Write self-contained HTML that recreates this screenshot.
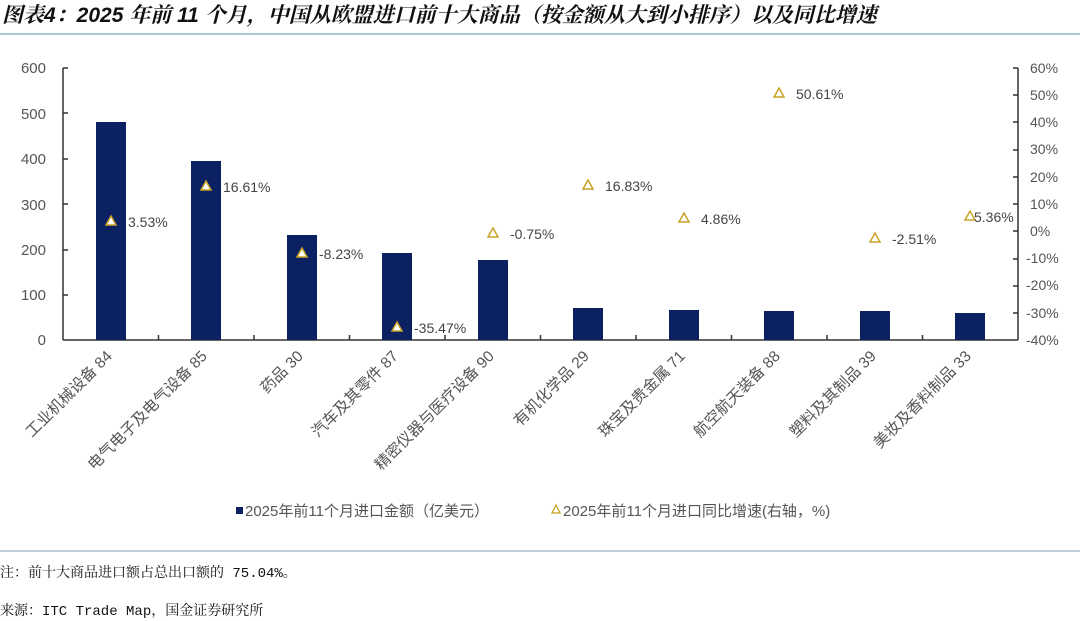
<!DOCTYPE html>
<html><head><meta charset="utf-8"><style>
body{margin:0;background:#fff;}
svg{display:block;font-family:"Liberation Sans","Noto Sans CJK SC",sans-serif;}
</style></head><body>
<svg width="1080" height="621" viewBox="0 0 1080 621">
<text x="2" y="22" font-size="21" font-weight="bold" font-style="italic" fill="#111" font-family="'Liberation Sans','Noto Serif CJK SC',serif">图表4：2025 年前 11 个月，中国从欧盟进口前十大商品（按金额从大到小排序）以及同比增速</text>
<line x1="0" y1="34" x2="1080" y2="34" stroke="#8fb0c8" stroke-width="1.5"/>
<g fill="#555" font-size="15" text-anchor="end">
<text x="46" y="73">600</text><text x="46" y="119">500</text><text x="46" y="164">400</text><text x="46" y="210">300</text><text x="46" y="255">200</text><text x="46" y="300">100</text><text x="46" y="345">0</text>
</g>
<g fill="#555" font-size="14" text-anchor="start">
<text x="1030" y="73">60%</text><text x="1030" y="100">50%</text><text x="1030" y="127">40%</text><text x="1030" y="154">30%</text><text x="1030" y="182">20%</text><text x="1030" y="209">10%</text><text x="1030" y="236">0%</text><text x="1026" y="263">-10%</text><text x="1026" y="290">-20%</text><text x="1026" y="318">-30%</text><text x="1026" y="345">-40%</text>
</g>
<g stroke="#333" stroke-width="1.5" fill="none">
<line x1="63" y1="68" x2="63" y2="340"/><line x1="63" y1="340" x2="1018" y2="340"/><line x1="1018" y1="68" x2="1018" y2="340"/>
<path d="M63 68h5M63 113h5M63 159h5M63 204h5M63 250h5M63 295h5"/>
<path d="M1018 68h-5M1018 95h-5M1018 122h-5M1018 150h-5M1018 177h-5M1018 204h-5M1018 231h-5M1018 259h-5M1018 286h-5M1018 313h-5"/>
<path d="M158.5 340v-5M254 340v-5M349.5 340v-5M445 340v-5M540.5 340v-5M636 340v-5M731.5 340v-5M827 340v-5M922.5 340v-5"/>
</g>
<g fill="#0b2161">
<rect x="96" y="122" width="30" height="218"/>
<rect x="191" y="161" width="30" height="179"/>
<rect x="287" y="235" width="30" height="105"/>
<rect x="382" y="253" width="30" height="87"/>
<rect x="478" y="260" width="30" height="80"/>
<rect x="573" y="308" width="30" height="32"/>
<rect x="669" y="310" width="30" height="30"/>
<rect x="764" y="311" width="30" height="29"/>
<rect x="860" y="311" width="30" height="29"/>
<rect x="955" y="313" width="30" height="27"/>
</g>
<g fill="#fff" stroke="#c9a227" stroke-width="1.5">
<path d="M111 216l5 9h-10z"/><path d="M206 181l5 9h-10z"/><path d="M302 248l5 9h-10z"/><path d="M397 322l5 9h-10z"/><path d="M493 228l5 9h-10z"/><path d="M588 180l5 9h-10z"/><path d="M684 213l5 9h-10z"/><path d="M779 88l5 9h-10z"/><path d="M875 233l5 9h-10z"/><path d="M970 211l5 9h-10z"/>
</g>
<g fill="#444" font-size="14">
<text x="128" y="227">3.53%</text><text x="223" y="192">16.61%</text><text x="319" y="259">-8.23%</text><text x="414" y="333">-35.47%</text><text x="510" y="239">-0.75%</text><text x="605" y="191">16.83%</text><text x="701" y="224">4.86%</text><text x="796" y="99">50.61%</text><text x="892" y="244">-2.51%</text><text x="974" y="222">5.36%</text>
</g>
<g fill="#555" font-size="15.5" text-anchor="end">
<text transform="translate(113,357) rotate(-45)">工业机械设备 84</text>
<text transform="translate(208,357) rotate(-45)">电气电子及电气设备 85</text>
<text transform="translate(304,357) rotate(-45)">药品 30</text>
<text transform="translate(399,357) rotate(-45)">汽车及其零件 87</text>
<text transform="translate(495,357) rotate(-45)">精密仪器与医疗设备 90</text>
<text transform="translate(590,357) rotate(-45)">有机化学品 29</text>
<text transform="translate(686,357) rotate(-45)">珠宝及贵金属 71</text>
<text transform="translate(781,357) rotate(-45)">航空航天装备 88</text>
<text transform="translate(877,357) rotate(-45)">塑料及其制品 39</text>
<text transform="translate(972,357) rotate(-45)">美妆及香料制品 33</text>
</g>
<rect x="236" y="507" width="7" height="7" fill="#0b2161"/>
<text x="245" y="516" font-size="15" fill="#555">2025年前11个月进口金额（亿美元）</text>
<path d="M556 505l4 8h-8z" fill="#fff" stroke="#c9a227" stroke-width="1.3"/>
<text x="563" y="516" font-size="15" fill="#555">2025年前11个月进口同比增速(右轴，%)</text>
<line x1="0" y1="551" x2="1080" y2="551" stroke="#a9bfcf" stroke-width="1.5"/>
<g font-size="14" fill="#111" font-family="'Liberation Mono','Noto Serif CJK SC',monospace">
<text x="0" y="577">注：前十大商品进口额占总出口额的 75.04%。</text>
<text x="0" y="615">来源：ITC Trade Map，国金证券研究所</text>
</g>
</svg>
</body></html>
